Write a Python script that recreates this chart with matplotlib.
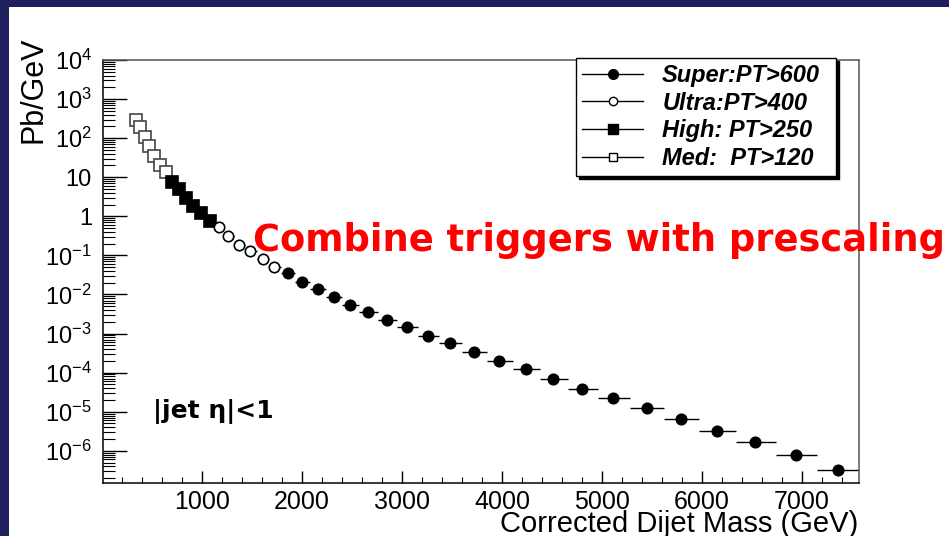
import numpy as np
import matplotlib.pyplot as plt
from matplotlib.patches import Rectangle
from matplotlib.lines import Line2D
from matplotlib.ticker import FixedLocator, LogLocator, MultipleLocator, NullFormatter

plt.rcParams["font.family"] = ["Liberation Sans", "DejaVu Sans"]
plt.rcParams["mathtext.fontset"] = "custom"
plt.rcParams["mathtext.rm"] = "Liberation Sans"
plt.rcParams["mathtext.default"] = "regular"

# dijet mass bin centres (GeV) and cross section (pb/GeV) per trigger
med_mass = [340, 380, 430, 470, 520, 580, 640]
med_xs = [285, 189, 105, 62, 36, 21, 13.3]

high_mass = [700, 770, 840, 910, 990, 1080]
high_xs = [7.4, 4.9, 2.9, 1.8, 1.19, 0.74]

ultra_mass = [1170, 1260, 1370, 1480, 1610, 1720]
ultra_xs = [0.52, 0.31, 0.19, 0.127, 0.080, 0.050]

super_mass = [1860, 2000, 2160, 2320, 2480, 2660, 2850, 3050, 3260, 3480,
              3720, 3970, 4240, 4510, 4800, 5110, 5450, 5790, 6150, 6530,
              6940, 7360]
super_xs = [0.035, 0.0205, 0.0136, 0.0085, 0.0053, 0.0035, 0.0022, 0.00145,
            8.5e-4, 5.6e-4, 3.3e-4, 1.96e-4, 1.22e-4, 6.8e-5, 3.76e-5,
            2.2e-5, 1.23e-5, 6.5e-6, 3.2e-6, 1.66e-6, 7.7e-7, 3.2e-7]

labels = ["Super:PT>600", "Ultra:PT>400", "High: PT>250", "Med:  PT>120"]

ytick_vals = [1e4, 1e3, 1e2, 10, 1, 1e-1, 1e-2, 1e-3, 1e-4, 1e-5, 1e-6]
ytick_labels = ["$10^{4}$", "$10^{3}$", "$10^{2}$", "10", "1", "$10^{-1}$",
                "$10^{-2}$", "$10^{-3}$", "$10^{-4}$", "$10^{-5}$", "$10^{-6}$"]


def bin_halfwidths(centres):
    c = np.asarray(centres, dtype=float)
    edges = np.concatenate([[c[0] - (c[1] - c[0]) / 2],
                            (c[1:] + c[:-1]) / 2,
                            [c[-1] + (c[-1] - c[-2]) / 2]])
    return c - edges[:-1], edges[1:] - c


all_mass = med_mass + high_mass + ultra_mass + super_mass
lo, hi = bin_halfwidths(all_mass)
n1 = len(med_mass)
n2 = n1 + len(high_mass)
n3 = n2 + len(ultra_mass)

fig = plt.figure(figsize=(9.49, 5.36), dpi=100, facecolor="#201f5e")
fig.add_artist(Rectangle((9 / 949, 0), 1, 1 - 7 / 536,
                         transform=fig.transFigure, facecolor="white",
                         edgecolor="none", zorder=0))

ax = fig.add_axes([103 / 949, 1 - 483 / 536, 756 / 949, 423 / 536])

series = [
    (med_mass, med_xs, slice(0, n1), "s", "white", "#444444", 8.5),
    (high_mass, high_xs, slice(n1, n2), "s", "black", "black", 8.5),
    (ultra_mass, ultra_xs, slice(n2, n3), "o", "white", "black", 7.5),
    (super_mass, super_xs, slice(n3, None), "o", "black", "black", 7.5),
]
for m, xs, sl, mk, fc, ec, ms in series:
    ax.errorbar(m, xs, xerr=[lo[sl], hi[sl]], fmt=mk, color="black",
                mfc=fc, mec=ec, ms=ms, mew=1.2, elinewidth=1, capsize=0)

ax.set_yscale("log")
ax.set_xlim(10, 7570)
ax.set_ylim(1.5e-7, 1e4)

ax.yaxis.set_major_locator(FixedLocator(ytick_vals))
ax.set_yticklabels(ytick_labels)
ax.yaxis.set_minor_locator(LogLocator(base=10, subs=np.arange(2, 10), numticks=30))
ax.yaxis.set_minor_formatter(NullFormatter())
ax.xaxis.set_minor_locator(MultipleLocator(200))
ax.set_xticks([1000, 2000, 3000, 4000, 5000, 6000, 7000])

ax.tick_params(axis="y", which="major", direction="in", length=17, width=1,
               labelsize=17, pad=8, right=False)
ax.tick_params(axis="y", which="minor", direction="in", length=8.5, width=0.8,
               right=False)
ax.tick_params(axis="x", which="major", direction="in", length=8.5, width=1,
               labelsize=18, pad=5, top=False)
ax.tick_params(axis="x", which="minor", direction="in", length=4.5, width=0.8,
               top=False)
for s in ax.spines.values():
    s.set_linewidth(1.1)
ax.spines["top"].set_color("#555555")
ax.spines["right"].set_color("#555555")

handles = [
    Line2D([], [], color="black", lw=1, marker="o", ms=7, mfc="black", mec="black"),
    Line2D([], [], color="black", lw=1, marker="o", ms=6, mfc="white", mec="black"),
    Line2D([], [], color="black", lw=1, marker="s", ms=7, mfc="black", mec="black"),
    Line2D([], [], color="black", lw=1, marker="s", ms=6, mfc="white", mec="black"),
]
leg = ax.legend(handles, labels, loc="upper left", mode="expand",
                bbox_to_anchor=(576 / 949, 1 - 165 / 536, 260 / 949, 107 / 536),
                bbox_transform=fig.transFigure, numpoints=1,
                frameon=True, fancybox=False, edgecolor="black", framealpha=1,
                shadow={"color": "black", "alpha": 1},
                prop=dict(family="Liberation Sans", weight="bold",
                          style="italic", size=17),
                handlelength=2.6, handletextpad=0.8, labelspacing=0.2,
                borderaxespad=0, borderpad=0.25)
leg.get_frame().set_linewidth(1)

fig.text(34 / 949, 1 - 90 / 536, "Pb/GeV", rotation=90, fontsize=22,
         ha="center", va="center")
fig.text(858 / 949, 1 - 532 / 536, "Corrected Dijet Mass (GeV)", fontsize=21,
         ha="right", va="baseline")
fig.text(153 / 949, 1 - 418 / 536, "|jet η|<1", family="DejaVu Sans",
         fontsize=18, fontweight="bold", ha="left", va="baseline")
fig.text(253 / 949, 1 - 251 / 536, "Combine triggers with prescaling",
         family="DejaVu Sans", fontweight="bold", fontsize=26.5,
         color="#ff0000", ha="left", va="baseline")

fig.savefig("out.png", dpi=100, facecolor=fig.get_facecolor())
